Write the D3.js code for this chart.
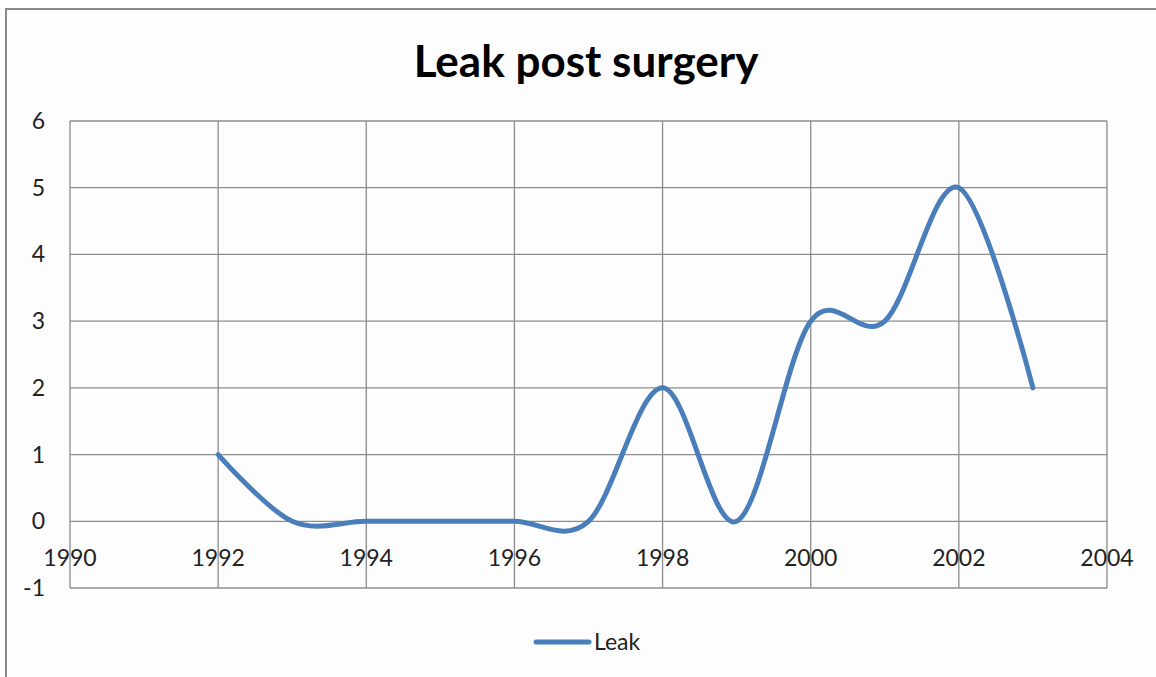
<!DOCTYPE html>
<html>
<head>
<meta charset="utf-8">
<script src="https://cdn.jsdelivr.net/npm/d3@7"></script>
<style>
  body { margin: 0; background: #fff; }
  svg { display: block; }
  text { font-family: Lato, "Open Sans", sans-serif; fill: #222; }
</style>
</head>
<body>
<svg id="chart"></svg>
<script>
// data
const years = [1992, 1993, 1994, 1995, 1996, 1997, 1998, 1999, 2000, 2001, 2002, 2003];
const leak = [1, 0, 0, 0, 0, 0, 2, 0, 3, 3, 5, 2];
const xTicks = [1990, 1992, 1994, 1996, 1998, 2000, 2002, 2004];
const yTicks = [-1, 0, 1, 2, 3, 4, 5, 6];
const seriesName = "Leak";
const title = "Leak post surgery";

const width = 1156, height = 677;
const margin = { top: 121, right: 49, bottom: 89, left: 70 };

const svg = d3.select("#chart")
  .attr("width", width)
  .attr("height", height);

// outer chart frame (only left and top edges are in view)
svg.append("rect")
  .attr("x", 6).attr("y", 9)
  .attr("width", 1200).attr("height", 700)
  .attr("fill", "#fdfdfd")
  .attr("stroke", "#8a8a8a")
  .attr("stroke-width", 2);

const x = d3.scaleLinear()
  .domain([1990, 2004])
  .range([margin.left, width - margin.right]);

const y = d3.scaleLinear()
  .domain([-1, 6])
  .range([height - margin.bottom, margin.top]);

// grid lines
svg.append("g")
  .selectAll("line")
  .data(yTicks)
  .enter()
  .append("line")
  .attr("x1", x(1990)).attr("x2", x(2004))
  .attr("y1", d => y(d)).attr("y2", d => y(d))
  .attr("stroke", "#8c8c8c")
  .attr("stroke-width", 1.3);

svg.append("g")
  .selectAll("line")
  .data(xTicks)
  .enter()
  .append("line")
  .attr("x1", d => x(d)).attr("x2", d => x(d))
  .attr("y1", y(6)).attr("y2", y(-1))
  .attr("stroke", "#8c8c8c")
  .attr("stroke-width", 1.3);

// y labels
svg.append("g")
  .selectAll("text")
  .data(yTicks)
  .enter()
  .append("text")
  .attr("x", margin.left - 25)
  .attr("y", d => y(d))
  .attr("dy", "0.35em")
  .attr("text-anchor", "end")
  .style("font-size", "23px")
  .text(d => d);

// x labels sit under the zero line
svg.append("g")
  .selectAll("text")
  .data(xTicks)
  .enter()
  .append("text")
  .attr("x", d => x(d))
  .attr("y", y(0) + 45)
  .attr("text-anchor", "middle")
  .style("font-size", "23px")
  .text(d => d);

// the smoothed line
const line = d3.line()
  .x((d, i) => x(years[i]))
  .y(d => y(d))
  .curve(d3.curveCardinal.tension(0));

svg.append("path")
  .datum(leak)
  .attr("d", line)
  .attr("fill", "none")
  .attr("stroke", "#4a7ebb")
  .attr("stroke-width", 5)
  .attr("stroke-linecap", "round")
  .attr("stroke-linejoin", "round");

// title
svg.append("text")
  .attr("x", 586)
  .attr("y", 77)
  .attr("text-anchor", "middle")
  .style("font-size", "44px")
  .style("font-weight", "bold")
  .style("fill", "#000")
  .text(title);

// legend
svg.append("line")
  .attr("x1", 536).attr("x2", 589)
  .attr("y1", 642).attr("y2", 642)
  .attr("stroke", "#4a7ebb")
  .attr("stroke-width", 5)
  .attr("stroke-linecap", "round");

svg.append("text")
  .attr("x", 594)
  .attr("y", 650)
  .style("font-size", "23px")
  .text(seriesName);
</script>
</body>
</html>
